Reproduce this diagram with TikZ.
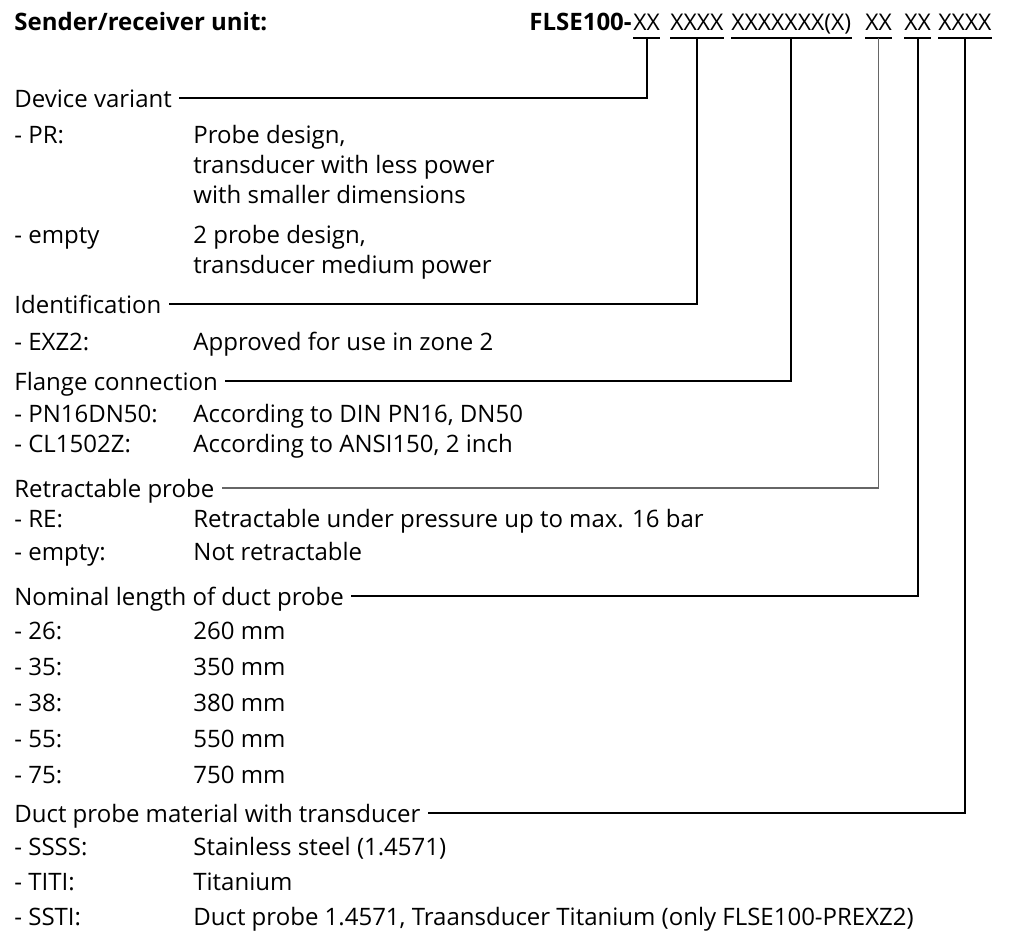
\documentclass[tikz,border=0pt]{standalone}
\usepackage{fontspec}
\setmainfont{Open Sans}
\usetikzlibrary{positioning}

\begin{document}
\begin{tikzpicture}[
  x=0.5pt, y=-0.5pt,
  txt/.style={anchor=base west, inner sep=0pt, font=\fontsize{12}{14}\selectfont},
  head/.style={txt, font=\fontsize{12}{14}\selectfont\bfseries},
  code/.style={txt, font=\fontsize{11.5}{14}\selectfont},
  lead/.style={line width=1pt},
  faint/.style={line width=0.6pt, black!60}
]
\useasboundingbox (0,0) rectangle (1015,932);

% Header
\node[head] (hdr)  at (14,30)  {Sender/receiver unit:};
\node[head] (type) at (529,30) {FLSE100-};
\node[code] (cVar) at (633,30) {XX};           % device variant
\node[code] (cId)  at (670,30) {XXXX};         % identification
\node[code] (cFl)  at (731,30) {XXXXXXX(X)};   % flange
\node[code] (cRe)  at (865,30) {XX};           % retractable
\node[code] (cLen) at (904,30) {XX};           % length
\node[code] (cMat) at (938,30) {XXXX};         % material

% Group labels
\node[txt] (lVar) at (14,107) {Device variant};
\node[txt] (lId)  at (14,313) {Identification};
\node[txt] (lFl)  at (14,390) {Flange connection};
\node[txt] (lRe)  at (14,497) {Retractable probe};
\node[txt] (lLen) at (14,605) {Nominal length of duct probe};
\node[txt] (lMat) at (14,822) {Duct probe material with transducer};

% Keys
\node[txt] (kPR)   at (14,143) {- PR:};
\node[txt] (kEm)   at (14,243) {- empty};
\node[txt] (kEx)   at (14,350) {- EXZ2:};
\node[txt] (kPN)   at (14,422) {- PN16DN50:};
\node[txt] (kCL)   at (14,452) {- CL1502Z:};
\node[txt] (kRE)   at (14,527) {- RE:};
\node[txt] (kEm2)  at (14,560) {- empty:};
\node[txt] (k26)   at (14,639) {- 26:};
\node[txt] (k35)   at (14,675) {- 35:};
\node[txt] (k38)   at (14,711) {- 38:};
\node[txt] (k55)   at (14,747) {- 55:};
\node[txt] (k75)   at (14,783) {- 75:};
\node[txt] (kSS)   at (14,855) {- SSSS:};
\node[txt] (kTI)   at (14,890) {- TITI:};
\node[txt] (kST)   at (14,925) {- SSTI:};

% Values
\node[txt] (vPR)   at (193,143) {Probe design,};
\node[txt] (vPRb)  at (193,173) {transducer with less power};
\node[txt] (vPRc)  at (193,203) {with smaller dimensions};
\node[txt] (vEm)   at (193,243) {2 probe design,};
\node[txt] (vEmb)  at (193,273) {transducer medium power};
\node[txt] (vEx)   at (193,350) {Approved for use in zone 2};
\node[txt] (vPN)   at (193,422) {According to DIN PN16, DN50};
\node[txt] (vCL)   at (193,452) {According to ANSI150, 2 inch};
\node[txt] (vRE)   at (193,527) {Retractable under pressure up to max. 16 bar};
\node[txt] (vEm2)  at (193,560) {Not retractable};
\node[txt] (v26)   at (193,639) {260 mm};
\node[txt] (v35)   at (193,675) {350 mm};
\node[txt] (v38)   at (193,711) {380 mm};
\node[txt] (v55)   at (193,747) {550 mm};
\node[txt] (v75)   at (193,783) {750 mm};
\node[txt] (vSS)   at (193,855) {Stainless steel (1.4571)};
\node[txt] (vTI)   at (193,890) {Titanium};
\node[txt] (vST)   at (193,925) {Duct probe 1.4571, Traansducer Titanium (only FLSE100-PREXZ2)};

% Underlines
\foreach \c in {cVar,cId,cFl,cRe,cLen,cMat}
  \draw[lead] ([yshift=-4pt]\c.base west) -- ([yshift=-4pt]\c.base east);

% Leader lines
\draw[lead]  ([yshift=-4pt]cVar.base) |- ([xshift=3.5pt,yshift=4.5pt]lVar.base east);
\draw[lead]  ([yshift=-4pt]cId.base)  |- ([xshift=3.5pt,yshift=4.5pt]lId.base east);
\draw[lead]  ([yshift=-4pt]cFl.base)  |- ([xshift=3.5pt,yshift=4.5pt]lFl.base east);
\draw[faint] ([yshift=-4pt]cRe.base)  |- ([xshift=3.5pt,yshift=4.5pt]lRe.base east);
\draw[lead]  ([yshift=-4pt]cLen.base) |- ([xshift=3.5pt,yshift=4.5pt]lLen.base east);
\draw[lead]  ([yshift=-4pt]cMat.base) |- ([xshift=3.5pt,yshift=4.5pt]lMat.base east);
\end{tikzpicture}
\end{document}
